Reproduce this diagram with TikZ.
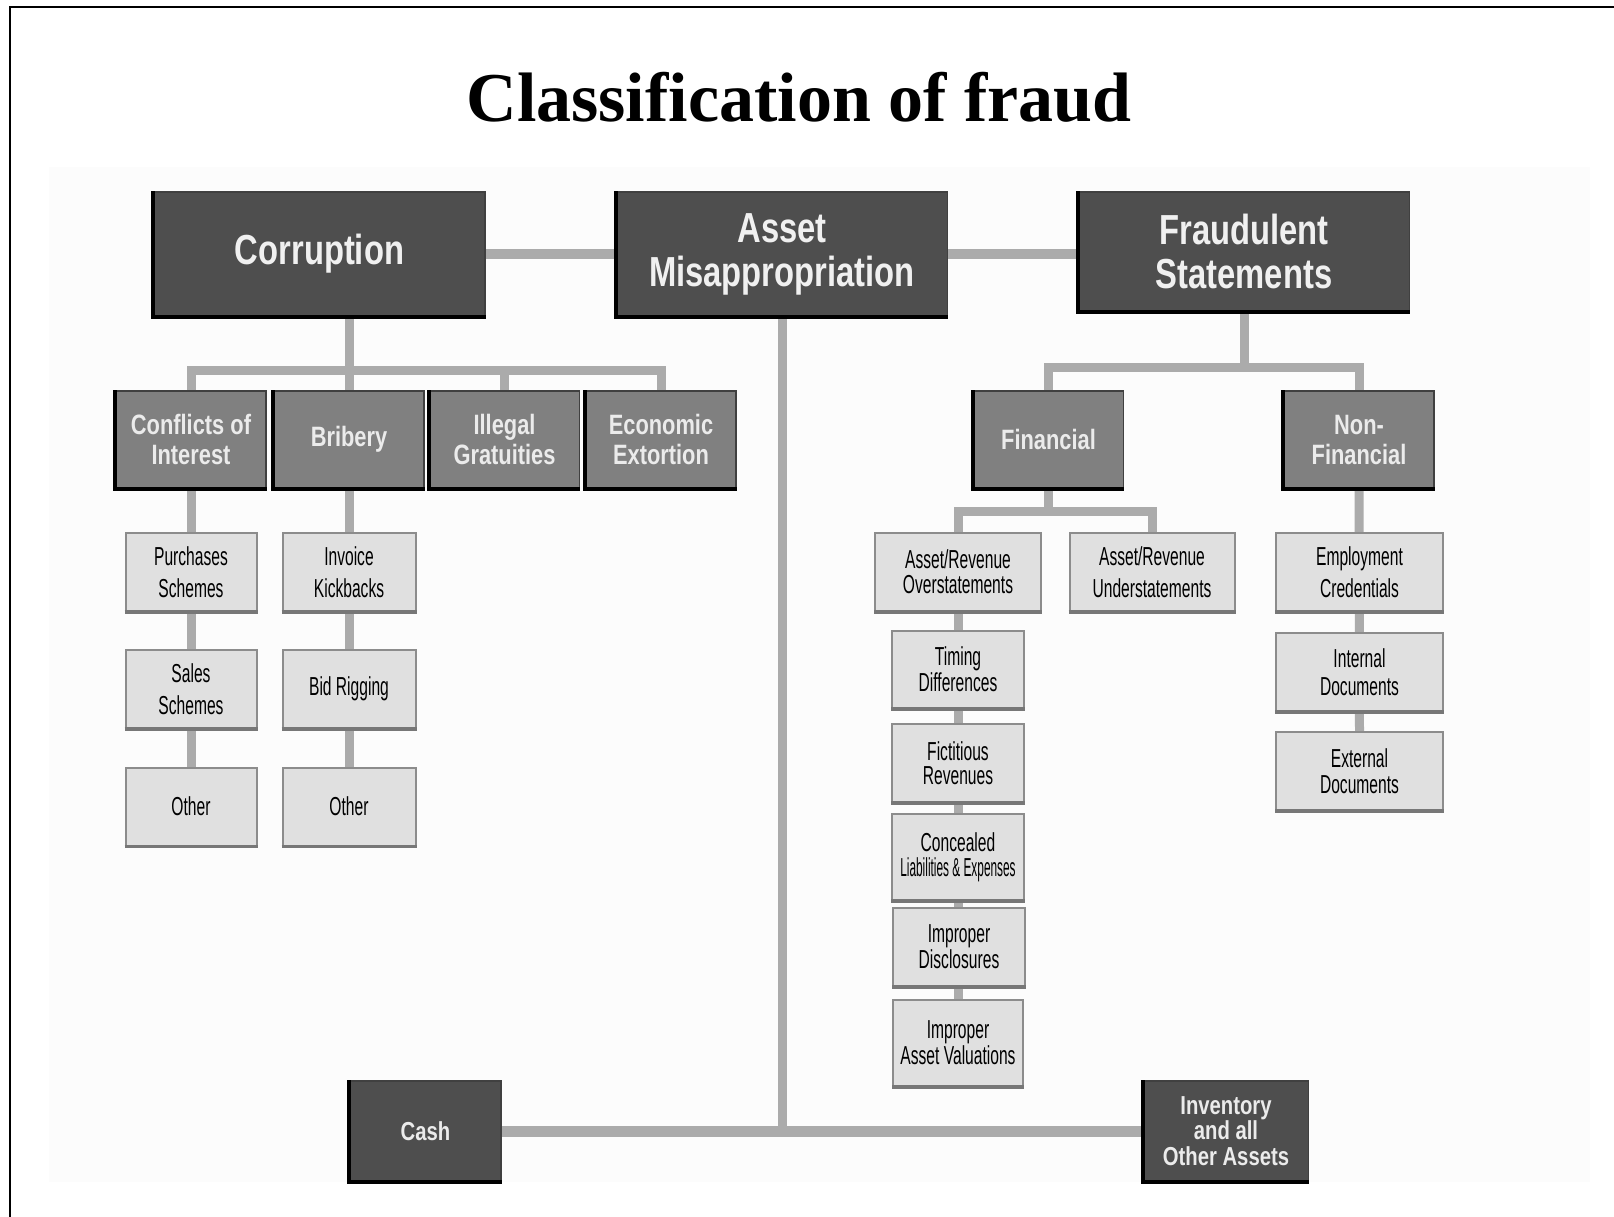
\documentclass[tikz,border=0pt]{standalone}
\usepackage{fontspec}
\setmainfont{Liberation Serif}
\newfontfamily\hfont[FakeStretch=0.78]{Liberation Sans}
\newfontfamily\lfont[FakeStretch=0.6]{Liberation Sans}
\usetikzlibrary{backgrounds}
\definecolor{topfill}{HTML}{4E4E4E}
\definecolor{midfill}{HTML}{808080}
\definecolor{leaffill}{HTML}{E0E0E0}
\definecolor{leafdraw}{HTML}{8C8C8C}
\definecolor{conncol}{HTML}{ABABAB}
\definecolor{panel}{HTML}{FCFCFC}
\tikzset{
  topbox/.style={fill=topfill, draw=black!75, line width=0.6pt, text=white!94!black,
    font=\hfont\bfseries\fontsize{21}{22}\selectfont, align=center, inner sep=0pt,
    minimum width=165.5pt, minimum height=62pt},
  midbox/.style={fill=midfill, draw=black!75, line width=0.6pt, text=white!92!black,
    font=\hfont\bfseries\fontsize{14}{15}\selectfont, align=center, inner sep=0pt,
    minimum width=75pt, minimum height=48.5pt},
  cashbox/.style={fill=topfill, draw=black!75, line width=0.6pt, text=white!92!black,
    font=\hfont\bfseries\fontsize{13}{12.8}\selectfont, align=center, inner sep=0pt,
    minimum height=50pt},
  leafbox/.style={fill=leaffill, draw=leafdraw, line width=1pt, text=black,
    font=\lfont\fontsize{13}{16}\selectfont, align=center, inner sep=0pt,
    minimum height=39pt},
  conn/.style={draw=conncol, line width=4.5pt},
  edgeline/.style={line width=2pt, black},
  leafedge/.style={line width=1.6pt, leafdraw!85!black}
}
\begin{document}
\begin{tikzpicture}[x=0.5pt, y=-0.5pt]
\useasboundingbox (0,0) rectangle (1614,1217);

\node[font=\bfseries\fontsize{35}{40}\selectfont, anchor=base] (title) at (799,121) {Classification of fraud};

% top level
\node[topbox] (corr) at (319.5,254) {Corruption};
\node[topbox] (asset) at (782,254) {Asset\\Misappropriation};
\node[topbox, minimum height=59.5pt] (fraud) at (1244,251.5) {Fraudulent\\Statements};

% corruption branch
\node[midbox] (coi) at (191,439.5) {Conflicts of\\Interest};
\node[midbox] (bri) at (349,439.5) {Bribery};
\node[midbox] (ill) at (504.5,439.5) {Illegal\\Gratuities};
\node[midbox] (eco) at (661,439.5) {Economic\\Extortion};

\node[leafbox, minimum width=65.5pt] (ps) at (191,572) {Purchases\\Schemes};
\node[leafbox, minimum width=65.5pt] (ss) at (191,689) {Sales\\Schemes};
\node[leafbox, minimum width=65.5pt] (o1) at (191,806.5) {Other};
\node[leafbox, minimum width=66.5pt] (ik) at (349,572) {Invoice\\Kickbacks};
\node[leafbox, minimum width=66.5pt] (br) at (349,689) {Bid Rigging};
\node[leafbox, minimum width=66.5pt] (o2) at (349,806.5) {Other};

% fraudulent statements branch
\node[midbox] (fin) at (1048.5,439.5) {Financial};
\node[midbox] (nonfin) at (1359,439.5) {Non-\\Financial};

\node[leafbox, minimum width=83pt, font=\lfont\fontsize{13}{12.5}\selectfont] (over) at (958,572) {Asset/Revenue\\Overstatements};
\node[leafbox, minimum width=82.5pt] (under) at (1152,572) {Asset/Revenue\\Understatements};
\node[leafbox, minimum width=66pt, minimum height=38.5pt, font=\lfont\fontsize{13}{12}\selectfont] (timing) at (958,669.5) {Timing\\Differences};
\node[leafbox, minimum width=66pt, font=\lfont\fontsize{13}{12}\selectfont] (fict) at (958,763) {Fictitious\\Revenues};
\node[leafbox, minimum width=66pt, minimum height=43pt, font=\lfont\fontsize{13}{12.5}\selectfont] (conc) at (958,857) {Concealed\\\scalebox{0.76}[1]{Liabilities \& Expenses}};
\node[leafbox, minimum width=66pt, font=\lfont\fontsize{13}{12}\selectfont] (impd) at (959,947) {Improper\\Disclosures};
\node[leafbox, minimum width=65pt, minimum height=43pt, font=\lfont\fontsize{13}{12}\selectfont] (impa) at (958,1043) {Improper\\Asset Valuations};

\node[leafbox, minimum width=83.5pt] (emp) at (1359.5,572) {Employment\\Credentials};
\node[leafbox, minimum width=83.5pt, font=\lfont\fontsize{13}{14}\selectfont] (int) at (1359.5,672) {Internal\\Documents};
\node[leafbox, minimum width=83.5pt, font=\lfont\fontsize{13}{13}\selectfont] (ext) at (1359.5,771) {External\\Documents};

% asset misappropriation branch
\node[cashbox, minimum width=75.5pt] (cash) at (425.5,1131) {Cash};
\node[cashbox, minimum width=82.5pt] (inv) at (1226,1131) {Inventory\\and all\\Other Assets};

% box edges
\foreach \n in {corr,asset,fraud,coi,bri,ill,eco,fin,nonfin,cash,inv}
  \draw[edgeline] (\n.north west) -- (\n.south west) -- (\n.south east);
\foreach \n in {ps,ss,o1,ik,br,o2,over,under,timing,fict,conc,impd,impa,emp,int,ext}
  \draw[leafedge] (\n.south west) -- (\n.south east);

\begin{scope}[on background layer]
\fill[white] (0,0) rectangle (1614,1217);
\fill[panel] (49,167) rectangle (1590,1182);
\draw[line width=1pt] (10,1217) -- (10,7) -- (1614,7);
\coordinate (cb) at (0,370);
\coordinate (fb) at (0,367.5);
\coordinate (fnb) at (0,511.5);
\coordinate (ab) at (0,1129);
\draw[conn, line width=5pt] (corr.east) -- (asset.west);
\draw[conn, line width=5pt] (asset.east) -- (fraud.west |- asset.east);
\draw[conn] (corr.south -| bri.north) -- (bri.north);
\draw[conn] (coi.north) -- (coi.north |- cb) -- (eco.north |- cb) -- (eco.north);
\draw[conn] (ill.north) -- (ill.north |- cb);
\draw[conn] (coi.south) -- (o1.north);
\draw[conn] (bri.south) -- (o2.north);
\draw[conn] (fraud.south) -- (fraud.south |- fb);
\draw[conn] (fin.north) -- (fin.north |- fb) -- (nonfin.north |- fb) -- (nonfin.north);
\draw[conn] (fin.south) -- (fin.south |- fnb);
\draw[conn] (over.north) -- (over.north |- fnb) -- (under.north |- fnb) -- (under.north);
\draw[conn] (over.south) -- (impa.north);
\draw[conn] (nonfin.south) -- (ext.north);
\draw[conn] (asset.south) -- (asset.south |- ab);
\draw[conn, line width=5.5pt] (cash.east) -- (inv.west);
\end{scope}
\end{tikzpicture}
\end{document}
